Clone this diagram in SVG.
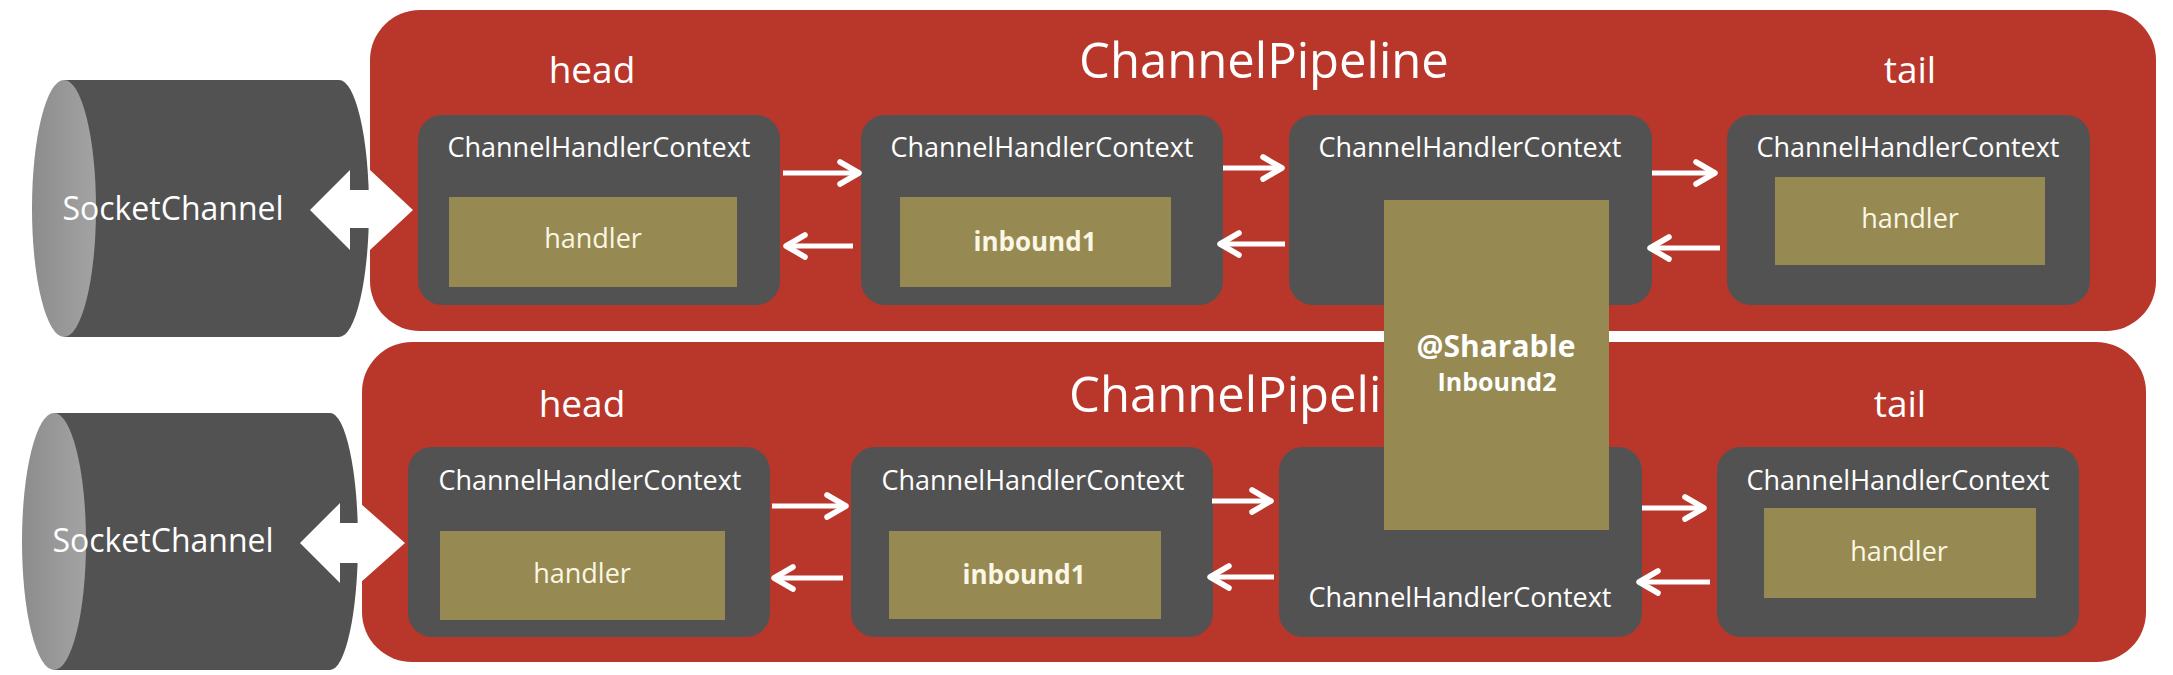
<svg xmlns="http://www.w3.org/2000/svg" width="2173" height="675" viewBox="0 0 2173 675">
<defs>
<style>
.pipe{fill:#b9372a}
.ctx{fill:#525252}
.hd{fill:#968a52}
.cylb{fill:#525252}
.t{font-family:"Open Sans","Noto Sans","Liberation Sans",sans-serif;fill:#ffffff;text-anchor:middle}
.lbl{font-size:27px}
.hnd{font-size:27px;fill:#fbf7e4}
.bold{font-weight:bold;font-size:26px;fill:#fbf7e4}
.big{font-size:37px}
.title{font-size:49px}
.sock{font-size:32px}
.arr{stroke:#ffffff;stroke-width:5;fill:none;marker-end:url(#ah)}
.dbl{fill:#ffffff}
</style>
<marker id="ah" markerUnits="userSpaceOnUse" markerWidth="40" markerHeight="40" viewBox="-30 -20 40 40" refX="0" refY="0" orient="auto">
<path d="M -19 -11 L 0 0 L -19 11" fill="none" stroke="#ffffff" stroke-width="5.5" stroke-linecap="round" stroke-linejoin="round"/>
</marker>
<linearGradient id="capg" x1="0" y1="0" x2="1" y2="0">
<stop offset="0" stop-color="#8c8c8c"/>
<stop offset="1" stop-color="#a3a3a3"/>
</linearGradient>
</defs>
<rect width="2173" height="675" fill="#ffffff"/>

<g id="pipeline1">
<rect class="pipe" x="370" y="10" width="1786" height="321" rx="50"/>
<text class="t big" x="592" y="83">head</text>
<text class="t title" x="1264" y="78">ChannelPipeline</text>
<text class="t big" x="1910" y="83">tail</text>
</g>
<g id="pipeline2">
<rect class="pipe" x="362" y="342" width="1784" height="320" rx="50"/>
<text class="t big" x="582" y="417">head</text>
<text class="t title" x="1254" y="412">ChannelPipeline</text>
<text class="t big" x="1900" y="417">tail</text>
</g>

<g id="p1-ctx1">
<rect class="ctx" x="418" y="115" width="362" height="190" rx="24"/>
<text class="t lbl" x="599" y="157">ChannelHandlerContext</text>
<rect class="hd" x="449" y="197" width="288" height="90"/>
<text class="t hnd" x="593" y="248">handler</text>
</g>
<g id="p1-ctx2">
<rect class="ctx" x="861" y="115" width="362" height="190" rx="24"/>
<text class="t lbl" x="1042" y="157">ChannelHandlerContext</text>
<rect class="hd" x="900" y="197" width="271" height="90"/>
<text class="t bold" x="1035" y="251">inbound1</text>
</g>
<g id="p1-ctx3">
<rect class="ctx" x="1289" y="115" width="363" height="190" rx="24"/>
<text class="t lbl" x="1470" y="157">ChannelHandlerContext</text>
</g>
<g id="p1-ctx4">
<rect class="ctx" x="1727" y="115" width="363" height="190" rx="24"/>
<text class="t lbl" x="1908" y="157">ChannelHandlerContext</text>
<rect class="hd" x="1775" y="177" width="270" height="88"/>
<text class="t hnd" x="1910" y="228">handler</text>
</g>

<g id="p2-ctx1">
<rect class="ctx" x="408" y="447" width="362" height="190" rx="24"/>
<text class="t lbl" x="590" y="490">ChannelHandlerContext</text>
<rect class="hd" x="440" y="531" width="285" height="89"/>
<text class="t hnd" x="582" y="583">handler</text>
</g>
<g id="p2-ctx2">
<rect class="ctx" x="851" y="447" width="362" height="190" rx="24"/>
<text class="t lbl" x="1033" y="490">ChannelHandlerContext</text>
<rect class="hd" x="889" y="531" width="272" height="88"/>
<text class="t bold" x="1024" y="584">inbound1</text>
</g>
<g id="p2-ctx3">
<rect class="ctx" x="1279" y="447" width="363" height="190" rx="24"/>
<text class="t lbl" x="1460" y="607">ChannelHandlerContext</text>
</g>
<g id="p2-ctx4">
<rect class="ctx" x="1717" y="447" width="362" height="190" rx="24"/>
<text class="t lbl" x="1898" y="490">ChannelHandlerContext</text>
<rect class="hd" x="1764" y="508" width="272" height="90"/>
<text class="t hnd" x="1899" y="561">handler</text>
</g>

<g id="socket1">
<path class="cylb" d="M 64 80 L 339 80 A 30 128.5 0 0 1 339 337 L 64 337 Z"/>
<ellipse cx="64" cy="208.5" rx="32" ry="128.5" fill="url(#capg)"/>
<text class="t sock" x="173" y="220">SocketChannel</text>
</g>
<g id="socket2">
<path class="cylb" d="M 54 413 L 330 413 A 28 128.5 0 0 1 330 670 L 54 670 Z"/>
<ellipse cx="54" cy="541.5" rx="32" ry="128.5" fill="url(#capg)"/>
<text class="t sock" x="163" y="552">SocketChannel</text>
</g>

<g id="connectors">
<polygon class="dbl" points="310,210 350,170 350,190 370,190 370,170 413,210 370,250 370,228 350,228 350,250"/>
<polygon class="dbl" points="300,543 340,503 340,523 360,523 360,503 405,543 360,583 360,563 340,563 340,583"/>
<line class="arr" x1="783" y1="173" x2="859" y2="173"/>
<line class="arr" x1="853" y1="246" x2="786" y2="246"/>
<line class="arr" x1="1223" y1="168" x2="1282" y2="168"/>
<line class="arr" x1="1285" y1="244" x2="1220" y2="244"/>
<line class="arr" x1="1652" y1="173" x2="1715" y2="173"/>
<line class="arr" x1="1720" y1="248" x2="1650" y2="248"/>
<line class="arr" x1="772" y1="506" x2="846" y2="506"/>
<line class="arr" x1="843" y1="578" x2="774" y2="578"/>
<line class="arr" x1="1212" y1="501" x2="1271" y2="501"/>
<line class="arr" x1="1274" y1="577" x2="1210" y2="577"/>
<line class="arr" x1="1642" y1="508" x2="1704" y2="508"/>
<line class="arr" x1="1710" y1="582" x2="1639" y2="582"/>
</g>

<g id="sharable">
<rect class="hd" x="1384" y="200" width="225" height="330"/>
<text class="t" x="1496" y="357" font-size="30" font-weight="bold" fill="#fbf7e4">@Sharable</text>
<text class="t" x="1497" y="391" font-size="25" font-weight="bold" fill="#fbf7e4">Inbound2</text>
</g>
</svg>
